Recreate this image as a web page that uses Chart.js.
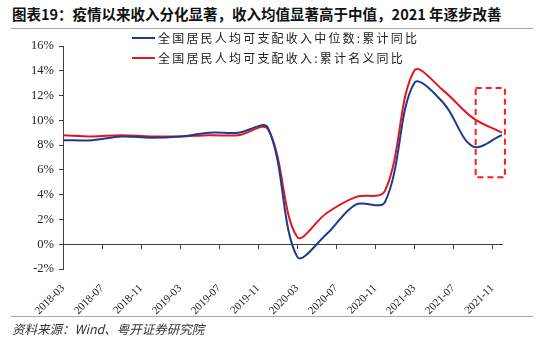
<!DOCTYPE html>
<html>
<head>
<meta charset="utf-8">
<script src="https://cdn.jsdelivr.net/npm/chart.js@4"></script>
<style>
  body { margin: 0; background: #fff; }
  #wrap { position: relative; width: 550px; height: 345px; overflow: hidden; }
  #title { position: absolute; left: 12px; top: 3px; font: bold 14.5px "Noto Sans CJK SC", sans-serif; color: #111; white-space: nowrap; }
  .rule { position: absolute; left: 11px; width: 522px; height: 0; border-top: 1.5px solid #a8a8a8; }
  #source { position: absolute; left: 12px; top: 319px; font: italic 12.5px "Noto Sans CJK SC", sans-serif; color: #333; white-space: nowrap; }
  #chart { position: absolute; left: 0; top: 0; }
</style>
</head>
<body>
<div id="wrap">
  <div id="title">图表19：疫情以来收入分化显著，收入均值显著高于中值，2021 年逐步改善</div>
  <div class="rule" style="top:28px"></div>
  <canvas id="chart" width="550" height="345"></canvas>
  <div class="rule" style="top:316px"></div>
  <div id="source">资料来源：Wind、粤开证券研究院</div>
</div>
<script>
const quarters = ['2018-03', '2018-06', '2018-09', '2018-12', '2019-03', '2019-06', '2019-09', '2019-12',
  '2020-03', '2020-06', '2020-09', '2020-12', '2021-03', '2021-06', '2021-09', '2021-12'];
const medianYoY = [8.4, 8.4, 8.7, 8.6, 8.7, 9.0, 9.0, 9.4, -1.0, 0.8, 3.2, 3.4, 13.0, 11.4, 7.9, 8.8];
const nominalYoY = [8.8, 8.7, 8.8, 8.7, 8.7, 8.8, 8.8, 9.3, 0.6, 2.5, 3.8, 4.3, 14.0, 12.4, 10.2, 9.0];
const tickLabels = ['2018-03', '2018-07', '2018-11', '2019-03', '2019-07', '2019-11',
  '2020-03', '2020-07', '2020-11', '2021-03', '2021-07', '2021-11'];
const seriesNames = ['全国居民人均可支配收入中位数:累计同比', '全国居民人均可支配收入:累计名义同比'];
const seriesColors = ['#1d3c8f', '#e3161f'];
// highlighted period (month index / percent)
const boxX = [42.3, 45.3];
const boxY = [5.4, 12.6];

const monthIdx = s => {
  const [y, m] = s.split('-').map(Number);
  return (y - 2018) * 12 + (m - 3);
};
const lastIdx = monthIdx(quarters[quarters.length - 1]);
const tickIdx = tickLabels.map(monthIdx);
const labelOf = {};
tickLabels.forEach(t => { labelOf[monthIdx(t)] = t; });

const toPoints = vals => vals.map((v, i) => ({ x: monthIdx(quarters[i]), y: v }));

const axisColor = '#404040';

const extras = {
  id: 'extras',
  afterDraw(chart) {
    const { ctx, scales: { x, y } } = chart;
    ctx.save();
    // dashed highlight box
    ctx.strokeStyle = '#ff1a1a';
    ctx.lineWidth = 2;
    ctx.setLineDash([6, 4]);
    const x0 = x.getPixelForValue(boxX[0]), x1 = x.getPixelForValue(boxX[1]);
    const y0 = y.getPixelForValue(boxY[1]), y1 = y.getPixelForValue(boxY[0]);
    ctx.strokeRect(x0, y0, x1 - x0, y1 - y0);
    ctx.setLineDash([]);
    // legend
    ctx.font = '12px "Noto Sans CJK SC", sans-serif';
    ctx.letterSpacing = '2.2px';
    ctx.textBaseline = 'middle';
    seriesNames.forEach((name, i) => {
      const ly = 38 + i * 20;
      ctx.strokeStyle = seriesColors[i];
      ctx.lineWidth = 2;
      ctx.beginPath();
      ctx.moveTo(132, ly);
      ctx.lineTo(155, ly);
      ctx.stroke();
      ctx.fillStyle = '#222';
      ctx.fillText(name, 158, ly);
    });
    ctx.restore();
  }
};

new Chart(document.getElementById('chart'), {
  type: 'line',
  data: {
    datasets: [
      { label: seriesNames[0], data: toPoints(medianYoY), borderColor: seriesColors[0], borderWidth: 2, pointRadius: 0, tension: 0.35, xAxisID: 'x' },
      { label: seriesNames[1], data: toPoints(nominalYoY), borderColor: seriesColors[1], borderWidth: 2, pointRadius: 0, tension: 0.35, xAxisID: 'x' }
    ]
  },
  options: {
    responsive: false,
    animation: false,
    events: [],
    layout: { padding: { top: 46, left: 0, right: 48, bottom: 26 } },
    plugins: { legend: { display: false }, tooltip: { enabled: false } },
    scales: {
      x: {
        type: 'linear',
        position: { y: 0 },
        min: 0,
        max: lastIdx,
        afterBuildTicks: s => { s.ticks = tickIdx.map(v => ({ value: v })); },
        grid: { drawOnChartArea: false, drawTicks: true, tickLength: 4, color: axisColor },
        border: { color: axisColor, width: 1 },
        ticks: { display: false }
      },
      x2: {
        type: 'linear',
        position: 'bottom',
        min: 0,
        max: lastIdx,
        afterBuildTicks: s => { s.ticks = tickIdx.map(v => ({ value: v })); },
        afterFit: s => { s.height = 50; },
        grid: { display: false, drawTicks: false },
        border: { display: false },
        ticks: {
          autoSkip: false,
          minRotation: 45,
          maxRotation: 45,
          padding: 13,
          color: '#222',
          font: { family: 'Liberation Serif', size: 11 },
          callback: v => labelOf[v] || ''
        }
      },
      y: {
        min: -2,
        max: 16,
        afterFit: s => { s.width = 63; },
        grid: { drawOnChartArea: false, drawTicks: true, tickLength: 4, color: axisColor },
        border: { color: axisColor, width: 1 },
        ticks: {
          stepSize: 2,
          padding: 5,
          color: '#222',
          font: { family: 'Liberation Serif', size: 12.5 },
          callback: v => v + '%'
        }
      }
    }
  },
  plugins: [extras]
});
</script>
</body>
</html>
